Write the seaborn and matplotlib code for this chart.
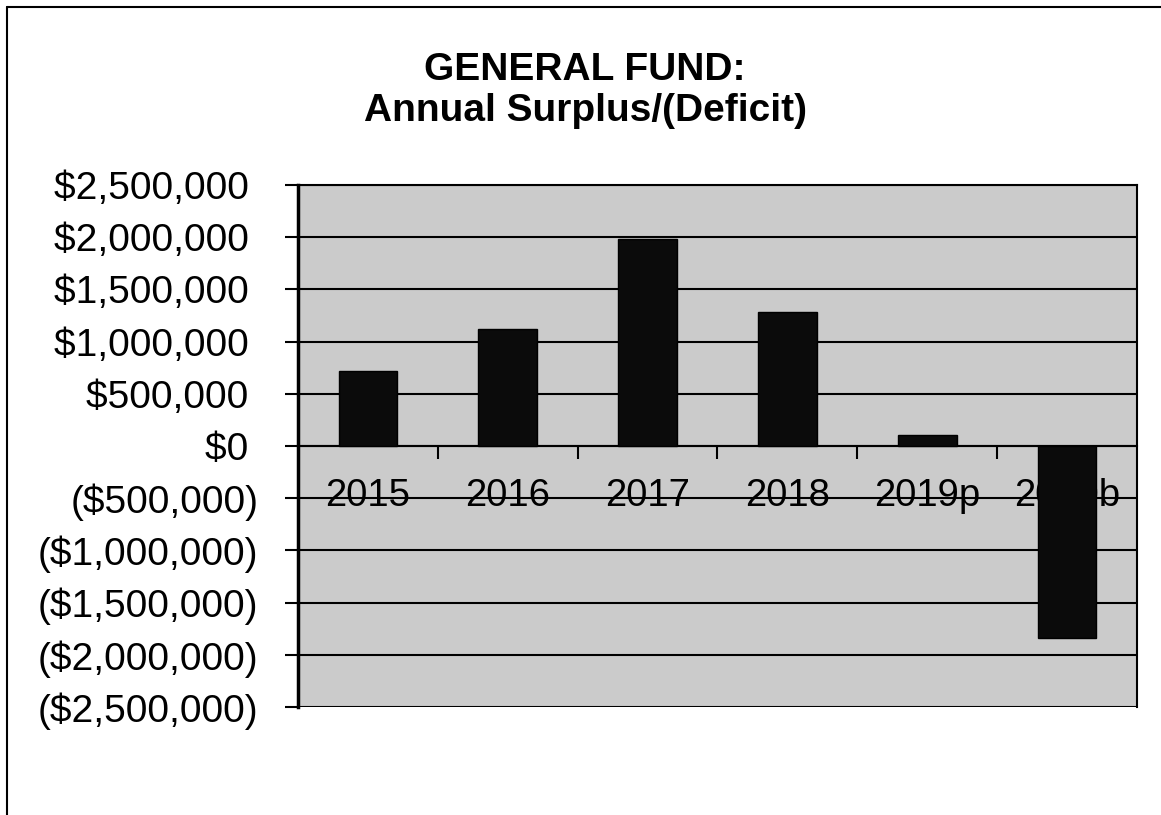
import matplotlib
matplotlib.use("Agg")
import matplotlib.pyplot as plt
import seaborn as sns
import pandas as pd
from matplotlib.lines import Line2D
from matplotlib.ticker import FuncFormatter, FixedLocator

# General fund annual surplus / (deficit), by fiscal year
years = ["2015", "2016", "2017", "2018", "2019p", "2020b"]
surplus = [720000, 1120000, 1980000, 1280000, 105000, -1840000]
y_ticks = [2500000, 2000000, 1500000, 1000000, 500000, 0,
           -500000, -1000000, -1500000, -2000000, -2500000]

title_line1 = "GENERAL FUND:"
title_line2 = "Annual Surplus/(Deficit)"


def accounting(v, _pos=None):
    # positive values keep a small trailing gap so digits line up with negatives
    if v >= 0:
        return f"${v:,.0f}\u2005"
    return f"(${-v:,.0f})"


sns.set_theme(style="white")
plt.rcParams["font.family"] = ["Liberation Sans", "DejaVu Sans"]

fig = plt.figure(figsize=(11.61, 8.15), dpi=100)
fig.patch.set_facecolor("white")
ax = fig.add_axes([0.2567, 0.1325, 0.7226, 0.6405])

df = pd.DataFrame({"year": years, "surplus": surplus})
sns.barplot(data=df, x="year", y="surplus", order=years, color="#0b0b0b",
            saturation=1, width=0.42, edgecolor="#000000", linewidth=1.0,
            ax=ax, zorder=3)

ax.set_facecolor("#cbcbcb")
ax.set_axisbelow(True)
ax.set_ylim(min(y_ticks), max(y_ticks))
ax.set_xlim(-0.5, len(years) - 0.5)
ax.yaxis.set_major_locator(FixedLocator(y_ticks))
ax.yaxis.set_major_formatter(FuncFormatter(accounting))
ax.grid(axis="y", color="black", linewidth=1.5)
ax.grid(axis="x", visible=False)
ax.set_xlabel("")
ax.set_ylabel("")

# category axis sits on the zero line, with ticks between the bars
ax.spines["bottom"].set_position(("data", 0))
ax.spines["bottom"].set_color("black")
ax.spines["bottom"].set_linewidth(1.5)
for side in ("top", "right"):
    ax.spines[side].set_color("black")
    ax.spines[side].set_linewidth(1.5)
ax.spines["left"].set_color("black")
ax.spines["left"].set_linewidth(2.5)

ax.set_xticks(range(len(years)))
ax.set_xticklabels(years)
ax.set_xticks([i + 0.5 for i in range(len(years) - 1)], minor=True)
ax.tick_params(axis="x", which="major", length=0, pad=23, labelsize=27.5,
               labelcolor="black")
ax.tick_params(axis="x", which="minor", bottom=True, direction="out",
               length=9, width=1.5, color="black")
ax.tick_params(axis="y", which="major", left=True, direction="out",
               length=9.5, width=1.5, color="black", pad=19, labelsize=28,
               labelcolor="black")

fig.text(0.504, 0.902, title_line1, ha="center", va="baseline",
         fontsize=28, fontweight="bold", color="black")
fig.text(0.504, 0.851, title_line2, ha="center", va="baseline",
         fontsize=28, fontweight="bold", color="black")

# outer chart frame (left and top edges)
fig.add_artist(Line2D([0.006, 0.006], [0.0, 0.9914], transform=fig.transFigure,
                      color="black", linewidth=1.5))
fig.add_artist(Line2D([0.006, 1.0], [0.9914, 0.9914], transform=fig.transFigure,
                      color="black", linewidth=1.5))

fig.savefig("out.png", dpi=100)
